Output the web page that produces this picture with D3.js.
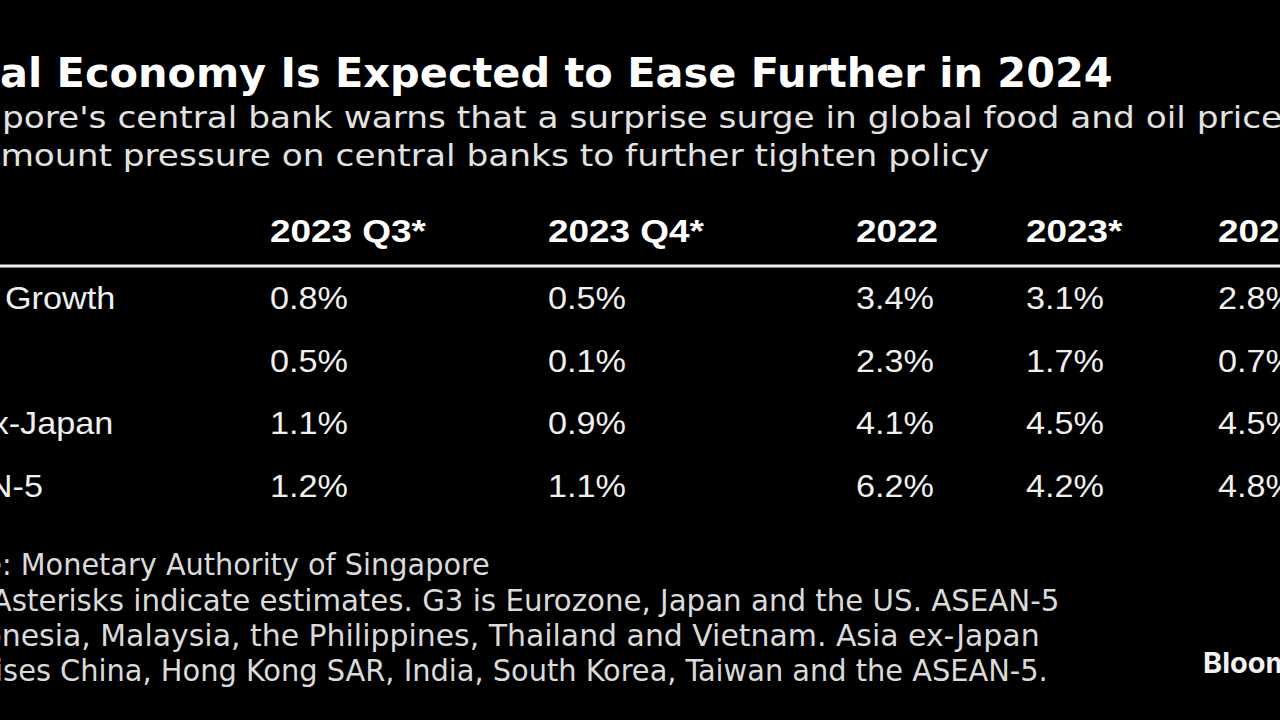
<!DOCTYPE html>
<html>
<head>
<meta charset="utf-8">
<script src="https://cdn.jsdelivr.net/npm/d3@7"></script>
<style>
  html, body { margin: 0; padding: 0; background: #000; overflow: hidden; }
  svg { display: block; }
</style>
</head>
<body>
<script>
// ---------- DATA ----------
const titleText = "Global Economy Is Expected to Ease Further in 2024";
const subtitleLines = [
  "Singapore's central bank warns that a surprise surge in global food and oil prices",
  "could mount pressure on central banks to further tighten policy"
];
const columns = ["2023 Q3*", "2023 Q4*", "2022", "2023*", "2024*"];
const rows = ["Global Growth", "G3", "Asia ex-Japan", "ASEAN-5"];
const q3_2023 = [0.8, 0.5, 1.1, 1.2];
const q4_2023 = [0.5, 0.1, 0.9, 1.1];
const y2022 = [3.4, 2.3, 4.1, 6.2];
const y2023 = [3.1, 1.7, 4.5, 4.2];
const y2024 = [2.8, 0.7, 4.5, 4.8];
const footLines = [
  "Source: Monetary Authority of Singapore",
  "Note: Asterisks indicate estimates. G3 is Eurozone, Japan and the US. ASEAN-5",
  "is Indonesia, Malaysia, the Philippines, Thailand and Vietnam. Asia ex-Japan",
  "comprises China, Hong Kong SAR, India, South Korea, Taiwan and the ASEAN-5."
];
const brand = "Bloomberg";

const seriesByColumn = [q3_2023, q4_2023, y2022, y2023, y2024];

// ---------- SETUP ----------
const W = 1280, H = 720;
const svg = d3.select("body").append("svg").attr("width", W).attr("height", H);
svg.append("rect").attr("width", W).attr("height", H).attr("fill", "#000");

function textWidth(str, family, size, weight, stretch) {
  const t = svg.append("text")
    .attr("font-family", family).attr("font-size", size)
    .attr("font-weight", weight).attr("x", -9999).attr("y", -9999)
    .style("font-stretch", stretch || "normal")
    .style("white-space", "pre").text(str);
  const w = t.node().getComputedTextLength();
  t.remove();
  return w;
}

function drawText(str, x, y, sx, family, size, weight, fill, stretch) {
  return svg.append("text")
    .attr("transform", `translate(${x},${y}) scale(${sx},1)`)
    .attr("font-family", family).attr("font-size", size)
    .attr("font-weight", weight).attr("fill", fill)
    .style("font-stretch", stretch || "normal")
    .style("white-space", "pre").text(str);
}

// ---------- TITLE ----------
{
  const fam = "DejaVu Sans", size = 41, wt = "bold";
  const pre = textWidth("Glob", fam, size, wt);
  const full = textWidth(titleText, fam, size, wt);
  const sx = (1113 - 0) / (full - pre);
  drawText(titleText, 0 - sx * pre, 87, sx, fam, size, wt, "#ffffff");
}

// ---------- SUBTITLE ----------
{
  const fam = "DejaVu Sans", size = 31, wt = "normal", st = "condensed";
  // line 1: visible "pore's ... oil price" from x=2 to about x=1283
  const pre1 = textWidth("Singa", fam, size, wt, st);
  const vis1 = textWidth(subtitleLines[0].slice(0, -1), fam, size, wt, st);
  const sx = (1283 - 2) / (vis1 - pre1);
  const x1 = 2 - sx * pre1;
  // line 2: right end at x=990
  const full2 = textWidth(subtitleLines[1], fam, size, wt, st);
  const x2 = 990 - sx * full2;
  drawText(subtitleLines[0], x1, 128, sx, fam, size, wt, "#e2e2e2", st);
  drawText(subtitleLines[1], x2, 166, sx, fam, size, wt, "#e2e2e2", st);
}

// ---------- TABLE ----------
const xCol = d3.scaleOrdinal().domain(columns).range([270, 548, 856, 1026, 1218]);
const yRow = d3.scalePoint().domain(rows).range([309, 496.5]);
const fmt = v => d3.format(".1f")(v) + "%";

const tableFam = "Liberation Sans";
{
  // header
  const hSize = 31, hWt = "bold";
  const hsx = 156 / textWidth("2023 Q3*", tableFam, hSize, hWt);
  columns.forEach(c => drawText(c, xCol(c), 242, hsx, tableFam, hSize, hWt, "#ffffff"));

  // rule
  svg.append("line").attr("x1", 0).attr("x2", W)
    .attr("y1", 266).attr("y2", 266)
    .attr("stroke", "#f2f2f2").attr("stroke-width", 3);

  // values
  const vSize = 32, vWt = "normal";
  const vsx = 78 / textWidth("0.8%", tableFam, vSize, vWt);
  columns.forEach((c, ci) => {
    seriesByColumn[ci].forEach((v, ri) => {
      drawText(fmt(v), xCol(c), yRow(rows[ri]), vsx, tableFam, vSize, vWt, "#f0f0f0");
    });
  });

  // row labels
  const pre = textWidth("Global ", tableFam, vSize, vWt);
  const lx = 5 - vsx * pre;
  rows.forEach(r => drawText(r, lx, yRow(r), vsx, tableFam, vSize, vWt, "#f0f0f0"));
}

// ---------- FOOTNOTES ----------
{
  const fam = "DejaVu Sans", size = 30, wt = "normal", st = "condensed";
  const ends = [490, 1060, 1040, 1048];
  const pre = textWidth("Source", fam, size, wt, st);
  const w1 = textWidth(footLines[0], fam, size, wt, st);
  const sx1 = (ends[0] - 2) / (w1 - pre);
  const x0 = 2 - sx1 * pre;
  const ys = [575, 611, 646, 681];
  footLines.forEach((l, i) => {
    const wi = textWidth(l, fam, size, wt, st);
    const sxi = (ends[i] - x0) / wi;
    drawText(l, x0, ys[i], sxi, fam, size, wt, "#dadada", st);
  });
}

// ---------- BRAND ----------
drawText(brand, 1203, 673, 1, "Inter", 29, "bold", "#f2f2f2");
</script>
</body>
</html>
